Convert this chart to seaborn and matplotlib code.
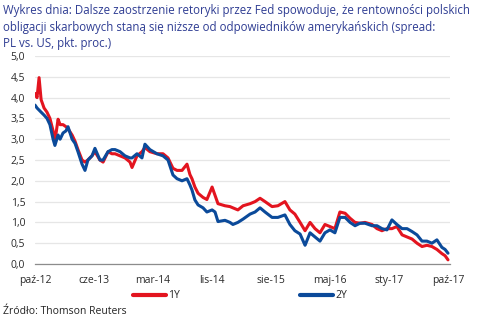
import pandas as pd
import seaborn as sns
import matplotlib.pyplot as plt

# days since 2012-10-01 at which the values were read
days = [0, 9, 18, 27, 40, 53, 66, 80, 88, 102, 111, 124, 137, 146, 164, 177, 190, 208,
        221, 234, 252, 265, 287, 301, 323, 340, 354, 376, 398, 420, 429, 451, 473, 486,
        508, 539, 566, 588, 610, 628, 650, 672, 685, 694, 707, 721, 743, 760, 783, 796,
        809, 840, 862, 875, 897, 920, 951, 973, 995, 1017, 1048, 1074, 1105, 1127, 1149,
        1172, 1194, 1216, 1238, 1260, 1282, 1304, 1326, 1348, 1371, 1393, 1415, 1437,
        1459, 1490, 1512, 1534, 1556, 1578, 1600, 1623, 1645, 1667, 1689, 1711, 1733,
        1755, 1777, 1799, 1813, 1826]

spread_1y = [4.10, 4.00, 4.48, 3.95, 3.75, 3.65, 3.50, 3.20, 2.95, 3.48, 3.35, 3.35, 3.30,
             3.25, 3.10, 2.95, 2.75, 2.50, 2.45, 2.50, 2.60, 2.70, 2.50, 2.45, 2.70, 2.65,
             2.65, 2.60, 2.55, 2.45, 2.32, 2.60, 2.70, 2.80, 2.70, 2.65, 2.65, 2.55, 2.30,
             2.25, 2.25, 2.40, 2.15, 2.05, 1.85, 1.70, 1.60, 1.55, 1.85, 1.65, 1.45, 1.40,
             1.38, 1.35, 1.30, 1.40, 1.45, 1.50, 1.58, 1.50, 1.38, 1.40, 1.50, 1.30, 1.20,
             1.00, 0.80, 1.00, 0.85, 0.75, 0.95, 0.90, 0.85, 1.25, 1.22, 1.10, 1.00, 0.98,
             1.00, 0.95, 0.85, 0.80, 0.85, 0.85, 0.90, 0.70, 0.65, 0.60, 0.50, 0.42, 0.45,
             0.42, 0.35, 0.25, 0.20, 0.10]

spread_2y = [3.82, 3.75, 3.70, 3.65, 3.58, 3.50, 3.35, 3.00, 2.85, 3.10, 3.00, 3.15, 3.20,
             3.30, 3.00, 2.90, 2.70, 2.40, 2.25, 2.50, 2.60, 2.78, 2.50, 2.50, 2.70, 2.75,
             2.75, 2.70, 2.60, 2.55, 2.55, 2.65, 2.55, 2.88, 2.75, 2.65, 2.60, 2.50, 2.14,
             2.05, 2.00, 2.05, 1.90, 1.78, 1.54, 1.42, 1.35, 1.25, 1.30, 1.25, 1.02, 1.05,
             1.00, 0.95, 1.00, 1.08, 1.20, 1.25, 1.35, 1.25, 1.12, 1.12, 1.18, 0.95, 0.80,
             0.72, 0.45, 0.75, 0.65, 0.55, 0.75, 0.82, 0.75, 1.12, 1.12, 1.00, 0.92, 0.98,
             0.98, 0.92, 0.92, 0.85, 0.82, 1.06, 0.95, 0.85, 0.85, 0.78, 0.70, 0.55, 0.55,
             0.50, 0.58, 0.40, 0.35, 0.26]

tick_labels = ['paź-12', 'cze-13', 'mar-14', 'lis-14', 'sie-15', 'maj-16', 'sty-17', 'paź-17']
series_names = ['1Y', '2Y']
colors = ['#e3141f', '#0b4a9a']

title = ('Wykres dnia: Dalsze zaostrzenie retoryki przez Fed spowoduje, że rentowności polskich\n'
         'obligacji skarbowych staną się niższe od odpowiedników amerykańskich (spread:\n'
         'PL vs. US, pkt. proc.)')
source = 'Źródło: Thomson Reuters'

df = pd.DataFrame({
    'day': days * 2,
    'spread': spread_1y + spread_2y,
    'series': [series_names[0]] * len(days) + [series_names[1]] * len(days),
})

sns.set_style('white')
plt.rcParams['font.family'] = ['Open Sans', 'DejaVu Sans']

fig = plt.figure(figsize=(4.8, 3.18), dpi=100)
ax = fig.add_axes([35 / 480, 1 - 264 / 318, 415 / 480, 208 / 318])

sns.lineplot(data=df, x='day', y='spread', hue='series', palette=colors,
             linewidth=2.2, ax=ax, legend=False)

span = days[-1]
ax.set_xlim(0, span * 415 / 413)
ax.set_ylim(0, 5)
ax.set_xticks([span * i / 7 for i in range(8)])
ax.set_xticklabels(tick_labels)
ax.set_yticks([i * 0.5 for i in range(11)])
ax.set_yticklabels([f'{i * 0.5:.1f}'.replace('.', ',') for i in range(11)])
ax.set_xlabel('')
ax.set_ylabel('')

ax.grid(axis='y', color='#e6e6e6', linewidth=0.9)
ax.set_axisbelow(True)
for side in ['top', 'right', 'left']:
    ax.spines[side].set_visible(False)
ax.spines['bottom'].set_color('#8c8c8c')
ax.spines['bottom'].set_linewidth(0.9)
ax.tick_params(axis='x', direction='out', length=4, color='#8c8c8c', width=0.9,
               labelsize=7.5, labelcolor='#2a2a2a', pad=4)
ax.tick_params(axis='y', length=0, labelsize=7.5, labelcolor='#2a2a2a', pad=7)

fig.text(3 / 480, 1 - 4 / 318, title, ha='left', va='top', fontsize=8.3,
         color='#2f3d93', linespacing=1.35)
fig.text(3 / 480, 1 - 311 / 318, source, ha='left', va='center', fontsize=7.5,
         color='#222222')

handles = [plt.Line2D([], [], color=c, linewidth=3) for c in colors]
fig.legend(handles, series_names, loc='center', bbox_to_anchor=(240 / 480, 1 - 296 / 318),
           ncol=2, frameon=False, fontsize=7.5, handlelength=3.2, handletextpad=0.2,
           columnspacing=11.5)

fig.savefig('out.png', dpi=100)
